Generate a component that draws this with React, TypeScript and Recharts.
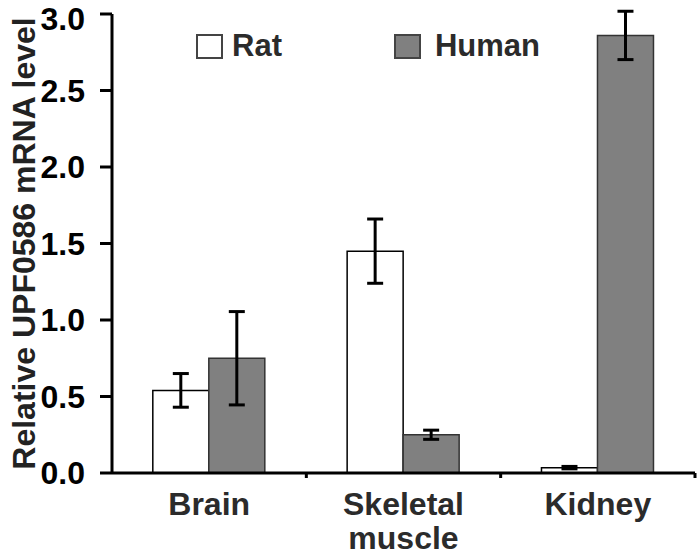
import React from 'react';
import { BarChart, Bar, XAxis, YAxis, ErrorBar, Legend, Label } from 'recharts';

const categories = ['Brain', 'Skeletal muscle', 'Kidney'];
const categoryLines = [['Brain'], ['Skeletal', 'muscle'], ['Kidney']];
const ratValues = [0.54, 1.45, 0.035];
const ratErrors = [0.11, 0.21, 0.008];
const humanValues = [0.75, 0.25, 2.86];
const humanErrors = [0.305, 0.03, 0.158];
const yTicks = [0, 0.5, 1.0, 1.5, 2.0, 2.5, 3.0];
const seriesNames = ['Rat', 'Human'];

const data = categories.map((c, i) => ({
  name: c,
  rat: ratValues[i],
  ratErr: ratErrors[i],
  human: humanValues[i],
  humanErr: humanErrors[i],
}));

const FONT = '"Liberation Sans", Arial, sans-serif';
const W = 700;
const H = 555;
const MARGIN = { top: 14, right: 5, left: 0, bottom: 0 };
const Y_W = 112;
const X_H = 82;
const BAND = (W - MARGIN.left - MARGIN.right - Y_W) / categories.length;

const XTick = (props: any) => {
  const { x, y, payload, index } = props;
  const lines = categoryLines[index] || [String(payload.value)];
  const bx = x + BAND / 2;
  return (
    <g>
      <line x1={bx} y1={y} x2={bx} y2={y + 5} stroke="#000" strokeWidth={3} />
      <text
        x={x}
        y={y}
        textAnchor="middle"
        fill="#2b2b2b"
        fontFamily={FONT}
        fontWeight="bold"
        fontSize={32}
      >
        {lines.map((l: string, i: number) => (
          <tspan key={i} x={x} dy={i === 0 ? 42 : 34}>
            {l}
          </tspan>
        ))}
      </text>
    </g>
  );
};

const YTitle = (props: any) => {
  const vb = props.viewBox || { x: 0, y: 0, width: 0, height: 0 };
  const cx = 35;
  const cy = vb.y + vb.height / 2;
  return (
    <text
      x={cx}
      y={cy}
      transform={`rotate(-90, ${cx}, ${cy})`}
      textAnchor="middle"
      fill="#222"
      fontFamily={FONT}
      fontWeight="bold"
      fontSize={32}
    >
      Relative UPF0586 mRNA level
    </text>
  );
};

const legendStyles = [
  { fill: '#ffffff', border: '#444' },
  { fill: '#808080', border: '#444' },
];

const LegendContent = () => (
  <div style={{ display: 'flex', alignItems: 'center', fontFamily: FONT }}>
    {seriesNames.map((n, i) => (
      <div
        key={n}
        style={{
          display: 'flex',
          alignItems: 'center',
          marginLeft: i === 0 ? 0 : 112,
        }}
      >
        <div
          style={{
            width: 23,
            height: 21,
            background: legendStyles[i].fill,
            border: `2px solid ${legendStyles[i].border}`,
          }}
        />
        <span
          style={{
            marginLeft: i === 0 ? 9 : 14,
            fontSize: 31,
            fontWeight: 'bold',
            color: '#2b2b2b',
            lineHeight: '30px',
          }}
        >
          {n}
        </span>
      </div>
    ))}
  </div>
);

export default function App() {
  return (
    <div style={{ position: 'absolute', left: 0, top: 0, background: '#fff' }}>
      <BarChart
        width={W}
        height={H}
        data={data}
        margin={MARGIN}
        barCategoryGap="21%"
        barGap={0}
      >
        <XAxis
          dataKey="name"
          height={X_H}
          tickLine={false}
          tickSize={0}
          tickMargin={0}
          axisLine={{ stroke: '#000', strokeWidth: 3 }}
          tick={<XTick />}
          interval={0}
        />
        <YAxis
          width={Y_W}
          domain={[0, 3]}
          ticks={yTicks}
          allowDataOverflow
          tickFormatter={(v: number) => v.toFixed(1)}
          tickSize={12}
          tickMargin={15}
          axisLine={{ stroke: '#000', strokeWidth: 3 }}
          tickLine={{ stroke: '#000', strokeWidth: 3 }}
          tick={{ fill: '#000', fontFamily: FONT, fontWeight: 'bold', fontSize: 32 }}
        >
          <Label content={<YTitle />} />
        </YAxis>
        <Legend
          layout="horizontal"
          verticalAlign="middle"
          align="center"
          content={<LegendContent />}
          wrapperStyle={{ position: 'absolute', top: 31, left: 196, width: 'auto', height: 'auto' }}
        />
        <Bar
          dataKey="rat"
          name="Rat"
          fill="#ffffff"
          stroke="#000"
          strokeWidth={1.5}
          isAnimationActive={false}
        >
          <ErrorBar dataKey="ratErr" width={8} strokeWidth={3} stroke="#000" />
        </Bar>
        <Bar
          dataKey="human"
          name="Human"
          fill="#808080"
          stroke="#333"
          strokeWidth={1.5}
          isAnimationActive={false}
        >
          <ErrorBar dataKey="humanErr" width={8} strokeWidth={3} stroke="#000" />
        </Bar>
      </BarChart>
    </div>
  );
}
